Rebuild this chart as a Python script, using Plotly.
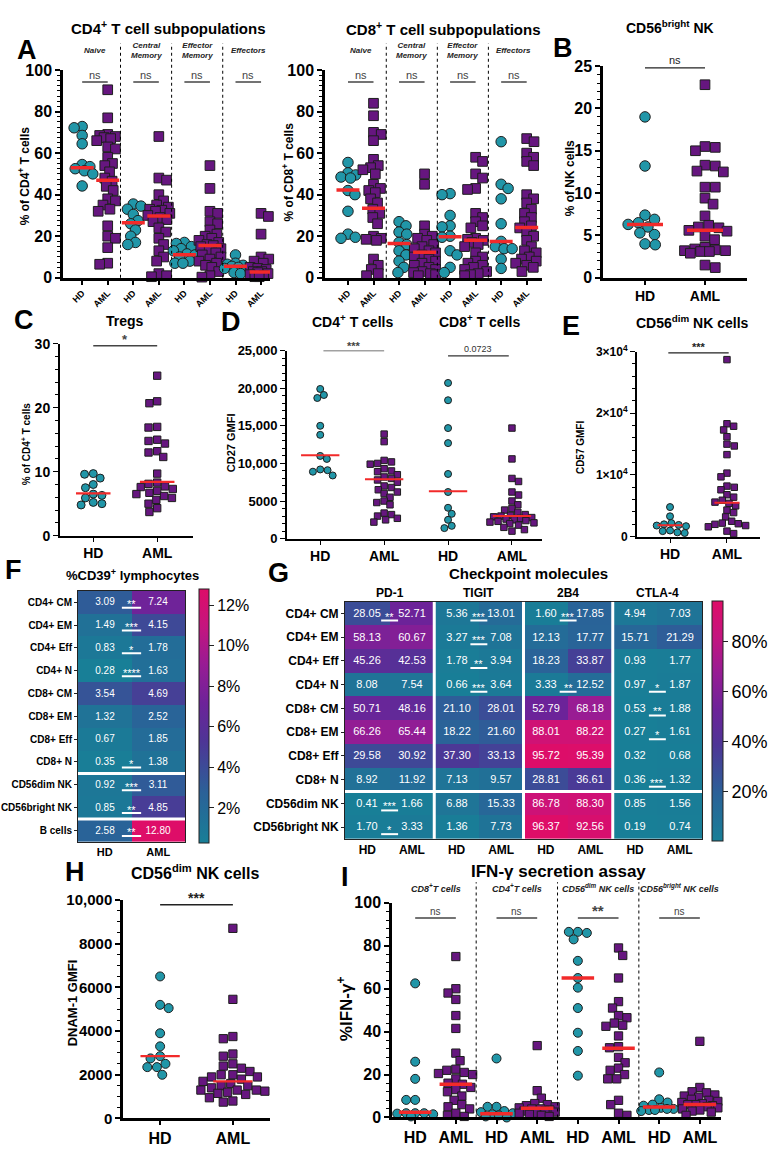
import numpy as np
import plotly.graph_objects as go

# ---------------- DATA ----------------
grp_labels = ["HD", "AML"]

# Panel A - CD4+ subpopulations (% of CD4+ T cells)
cd4_naive_hd = [72.8, 72.2, 68.5, 64.5, 54.5, 53.5, 52.5, 51.5, 50.0, 44.2]
cd4_naive_aml = [90.5, 77.0, 69.0, 68.5, 68.0, 67.5, 67.0, 66.0, 63.0, 62.0, 58.0, 55.0, 54.0, 51.0, 48.0,
                 46.5, 44.0, 42.0, 38.0, 37.0, 35.0, 33.0, 32.0, 25.0, 20.0, 19.0, 14.5, 7.0, 6.5]
cd4_cm_hd = [35.5, 34.5, 33.0, 30.5, 27.5, 26.0, 23.0, 20.0, 17.0, 16.0]
cd4_cm_aml = [68.0, 48.0, 47.0, 40.0, 37.0, 35.0, 34.0, 33.0, 32.5, 32.0, 31.0, 30.0, 29.0, 28.0, 27.0,
              24.0, 22.0, 19.0, 16.0, 13.0, 10.0, 8.0, 2.0, 1.0, 0.5]
cd4_em_hd = [17.0, 16.5, 15.0, 14.0, 13.0, 11.5, 11.0, 10.0, 8.0, 7.0, 7.0]
cd4_em_aml = [54.0, 43.0, 32.0, 31.0, 27.0, 26.0, 23.0, 21.0, 20.0, 19.0, 18.0, 17.0, 16.0, 15.5, 15.0,
              14.0, 13.0, 12.0, 11.0, 10.0, 9.0, 8.0, 7.0, 6.0, 5.0, 3.0, 1.0, 0.3]
cd4_eff_hd = [11.0, 7.0, 6.5, 6.0, 5.5, 5.0, 4.5, 3.5, 2.5, 2.0]
cd4_eff_aml = [31.0, 29.5, 21.0, 10.0, 9.0, 8.0, 7.0, 6.0, 5.0, 4.5, 4.0, 3.5, 3.0, 3.0, 2.5, 2.0, 1.5,
               1.0, 0.8, 0.5, 0.5]
cd4_medians = [53.0, 47.0, 26.5, 29.7, 11.1, 15.5, 5.5, 2.8]

# Panel A - CD8+ subpopulations (% of CD8+ T cells)
cd8_naive_hd = [55.5, 50.5, 49.5, 48.5, 48.0, 42.0, 40.0, 32.0, 21.0, 19.5, 19.0]
cd8_naive_aml = [84, 78, 70, 69, 66, 57, 54, 53, 52, 50, 45, 43, 42, 41, 38, 36, 33, 31, 29, 26, 20, 19,
                 18.5, 18, 9, 6, 4, 2, 1]
cd8_cm_hd = [27, 25, 22, 21, 17, 16, 13, 11, 8, 5, 2.5]
cd8_cm_aml = [50, 45, 25, 21, 20, 19, 18, 16, 15, 14, 13, 12, 11, 10, 9, 8, 7, 6, 5, 4, 3, 2.5, 2, 1.5, 1]
cd8_em_hd = [40.5, 40, 30, 25, 24.5, 20, 19.5, 13, 11, 5, 2.5]
cd8_em_aml = [58, 56, 50, 48, 43, 42.5, 31, 29, 27, 25, 24, 19, 18.5, 18, 17, 16, 15, 12, 10, 8, 7, 6, 5,
              4, 3, 2, 1.5, 1]
cd8_eff_hd = [65.5, 45, 43, 38, 26, 17.5, 15, 14, 14, 9, 4.5]
cd8_eff_aml = [67, 65.5, 60, 58, 56, 54, 40, 38, 36, 33, 31, 29, 27, 25, 24, 22, 20, 18, 15, 13, 12, 10, 9,
               8, 7, 6, 5, 3]
cd8_medians = [42.2, 33.5, 16.5, 12.3, 19.8, 18.0, 17.5, 24.2]
subpop_labels = ["Naive", "Central<br>Memory", "Effector<br>Memory", "Effectors"]
subpop_sig = ["ns", "ns", "ns", "ns"]

# Panel B - CD56bright NK (% of NK cells)
nkb_hd = [19.0, 13.2, 7.4, 6.9, 6.5, 6.3, 6.0, 5.3, 5.1, 4.0, 3.9]
nkb_aml = [22.8, 15.5, 15.4, 15.0, 13.3, 13.2, 12.6, 12.5, 10.7, 10.7, 9.4, 8.7, 7.3, 6.2, 6.0, 5.9, 5.6,
           5.5, 4.9, 4.5, 3.6, 3.4, 3.3, 3.2, 3.1, 3.1, 3.2, 2.9, 1.5, 1.2]
nkb_medians = [6.3, 5.6]

# Panel C - Tregs (% of CD4+ T cells)
treg_hd = [9.7, 9.6, 9.0, 8.0, 7.5, 6.5, 6.3, 5.9, 5.2, 5.0, 4.8]
treg_aml = [25, 21, 20.7, 17, 16.9, 15, 14.8, 14.4, 13.2, 13.0, 12.3, 9.7, 8.3, 8.1, 7.7, 7.6, 7.3, 7.0,
            6.7, 6.5, 6.2, 5.9, 5.6, 5.0, 4.3, 3.7]
treg_medians = [6.6, 8.4]

# Panel D - CD27 GMFI
cd27_cd4_hd = [19900, 19100, 18700, 15000, 13800, 11000, 10600, 9200, 9100, 8900, 8400]
cd27_cd4_aml = [13900, 12900, 10400, 10200, 10000, 9900, 9300, 9000, 8900, 8500, 8200, 8000, 7800, 7500,
                7000, 6800, 6500, 6200, 6000, 5500, 5000, 4800, 4500, 3400, 3200, 3000, 2700, 2500, 2200]
cd27_cd8_hd = [20700, 18400, 14700, 12700, 8600, 6200, 4100, 3300, 2500, 1700, 1400]
cd27_cd8_aml = [14700, 10600, 8000, 7600, 6200, 5800, 5000, 4500, 4000, 3800, 3500, 3200, 3100, 3000,
                2900, 2800, 2700, 2600, 2500, 2400, 2300, 2200, 2100, 2000, 1800, 1500, 1200, 1000]
cd27_medians = [11100, 7900, 6300, 3000]

# Panel E - CD57 GMFI
cd57_hd = [4800, 3300, 2200, 2000, 1900, 1800, 1700, 1000, 900, 700, 600]
cd57_aml = [28700, 18300, 17900, 17300, 16200, 15000, 14700, 13300, 10300, 9700, 8200, 8000, 7600, 6800,
            6400, 5900, 5600, 5400, 5000, 4300, 3900, 3200, 2500, 2200, 2100, 2000, 1800, 1600, 900, 500]
cd57_medians = [1850, 5500]

# Panel F - %CD39+ lymphocytes
f_rows = ["CD4+ CM", "CD4+ EM", "CD4+ Eff", "CD4+ N", "CD8+ CM", "CD8+ EM", "CD8+ Eff", "CD8+ N",
          "CD56dim NK", "CD56bright NK", "B cells"]
f_hd = [3.09, 1.49, 0.83, 0.28, 3.54, 1.32, 0.67, 0.35, 0.92, 0.85, 2.58]
f_aml = [7.24, 4.15, 1.78, 1.63, 4.69, 2.52, 1.85, 1.38, 3.11, 4.85, 12.80]
f_sig = ["**", "***", "*", "****", "", "", "", "*", "***", "**", "**"]

# Panel G - Checkpoint molecules
g_rows = ["CD4+ CM", "CD4+ EM", "CD4+ Eff", "CD4+ N", "CD8+ CM", "CD8+ EM", "CD8+ Eff", "CD8+ N",
          "CD56dim NK", "CD56bright NK"]
g_markers = ["PD-1", "TIGIT", "2B4", "CTLA-4"]
pd1_hd = [28.05, 58.13, 45.26, 8.08, 50.71, 66.26, 29.58, 8.92, 0.41, 1.70]
pd1_aml = [52.71, 60.67, 42.53, 7.54, 48.16, 65.44, 30.92, 11.92, 1.66, 3.33]
tigit_hd = [5.36, 3.27, 1.78, 0.66, 21.10, 18.22, 37.30, 7.13, 6.88, 1.36]
tigit_aml = [13.01, 7.08, 3.94, 3.64, 28.01, 21.60, 33.13, 9.57, 15.33, 7.73]
b2b4_hd = [1.60, 12.13, 18.23, 3.33, 52.79, 88.01, 95.72, 28.81, 86.78, 96.37]
b2b4_aml = [17.85, 17.77, 33.87, 12.52, 68.18, 88.22, 95.39, 36.61, 88.30, 92.56]
ctla4_hd = [4.94, 15.71, 0.93, 0.97, 0.53, 0.27, 0.32, 0.36, 0.85, 0.19]
ctla4_aml = [7.03, 21.29, 1.77, 1.87, 1.88, 1.61, 0.68, 1.32, 1.56, 0.74]
pd1_sig = ["**", "", "", "", "", "", "", "", "***", "*"]
tigit_sig = ["***", "***", "**", "***", "", "", "", "", "", ""]
b2b4_sig = ["***", "", "", "**", "", "", "", "", "", ""]
ctla4_sig = ["", "", "", "*", "**", "*", "", "***", "", ""]

# Panel H - DNAM-1 GMFI
dnam_hd = [6500, 5200, 5050, 3900, 3300, 2850, 2750, 2500, 2350, 2350, 2000]
dnam_aml = [8700, 5450, 3750, 3650, 2950, 2850, 2500, 2400, 2300, 2150, 2000, 2000, 1900, 1900, 1800,
            1700, 1600, 1500, 1500, 1400, 1300, 1300, 1300, 1250, 1200, 1150, 1100, 950, 800, 750]
dnam_medians = [2850, 1700]

# Panel I - IFN-g secretion
ifn_cd8_hd = [62.5, 26, 18, 8.2, 8.2, 2, 2, 2, 1.8, 1.5, 0.5]
ifn_cd8_aml = [75, 60, 58, 55, 47.5, 41.5, 30, 26.5, 22.5, 22, 21, 20.5, 20, 18, 16, 15.5, 14, 13, 12, 10,
               8, 6, 5, 4, 2, 1, 0.5]
ifn_cd4_hd = [27.5, 5, 5, 3, 2.5, 2, 1.5, 1, 0.5, 0]
ifn_cd4_aml = [33.5, 12.5, 9, 6.5, 6, 5.5, 5, 4.5, 4, 4, 3.5, 3, 3, 2.5, 2, 2, 1.5, 1, 0.5]
ifn_dim_hd = [86.5, 86.5, 86, 83, 73, 65, 60.5, 51, 39.5, 31, 19.5]
ifn_dim_aml = [79, 75.5, 65, 54, 51, 47.5, 46.5, 44, 43, 42.5, 38, 33, 32.5, 28, 25.5, 23, 22, 20, 18, 18,
               8, 6, 2, 1]
ifn_bri_hd = [21, 8.5, 7, 6, 5.5, 4.5, 4, 4, 3.5, 3.5, 3]
ifn_bri_aml = [35.5, 14, 12, 11.5, 10.5, 10, 9.5, 8.5, 8, 7.5, 7, 6.5, 6, 6, 5.5, 5, 4.5, 4, 3.5, 3, 2.5, 1]
ifn_medians = [2.4, 15.5, 1.8, 4.3, 65.0, 32.3, 4.9, 6.0]
ifn_labels = ["CD8<sup>+</sup>T cells", "CD4<sup>+</sup>T cells", "CD56<sup>dim</sup> NK cells",
              "CD56<sup>bright</sup> NK cells"]
ifn_sig = ["ns", "ns", "**", "ns"]

# ---------------- STYLE / HELPERS ----------------
W, H = 780, 1158
FONT = "Arial, Liberation Sans, Helvetica, sans-serif"
TEAL = "#2196a8"
PURP = "#66167f"
RED = "#f22a2a"
EDGE = "#1e1e1e"
GRAY = "#444444"
CS = [[0.0, "#187f97"], [0.2, "#2b6198"], [0.4, "#4e3596"], [0.55, "#6d2399"],
      [0.7, "#971c94"], [0.85, "#c4157f"], [1.0, "#de0d68"]]

fig = go.Figure()
layout = {}
annotations = []
shapes = []


def fx(p):
    return p / W


def fy(p):
    return 1 - p / H


def ann(text, x, y, size, bold=True, xref="paper", yref="paper", angle=0, color="black",
        italic=False, xanchor="center", yanchor="middle", yshift=0):
    if xref == "paper":
        x = fx(x)
    if yref == "paper":
        y = fy(y)
    annotations.append(dict(
        text=text, x=x, y=y, xref=xref, yref=yref, showarrow=False, textangle=angle,
        xanchor=xanchor, yanchor=yanchor, yshift=yshift,
        font=dict(family=FONT, size=size, color=color, weight="bold" if bold else "normal",
                  style="italic" if italic else "normal")))


def swarm(vals, ppu_x, ppu_y, d, maxw):
    """Beeswarm offsets (data units) computed from pixel geometry, limited to +-maxw px."""
    vals = np.asarray(vals, float)
    order = np.argsort(-vals, kind="stable")
    grid = np.linspace(-maxw, maxw, 61)
    grid = grid[np.argsort(np.abs(grid), kind="stable")]
    placed = []
    off = np.zeros(len(vals))
    for i in order:
        y = vals[i] * ppu_y
        if not placed:
            c = 0.0
        else:
            P = np.array(placed)
            dist = np.sqrt((grid[:, None] - P[None, :, 0]) ** 2 + (y - P[None, :, 1]) ** 2).min(axis=1)
            ok = np.where(dist >= d)[0]
            c = grid[ok[0]] if len(ok) else grid[np.argmax(dist)]
        placed.append((c, y))
        off[i] = c / ppu_x
    return off


def dot_panel(n, xpx, ypx, xr, yr, groups, meds, msize, mw, lw_med, ticktext, xfont, yfont, lw,
              ytickvals, yticktext, minor_dtick, maxw, dfac=0.85, tickangle=0):
    sfx = "" if n == 1 else str(n)
    layout["xaxis" + sfx] = dict(
        domain=[fx(xpx[0]), fx(xpx[1])], range=xr, anchor="y" + sfx, showline=True, linecolor="black",
        linewidth=lw, ticks="outside", ticklen=4, tickwidth=max(1, lw * 0.6), tickcolor="black",
        tickvals=list(range(len(ticktext))), ticktext=ticktext, tickangle=tickangle,
        tickfont=dict(family=FONT, size=xfont, color="black", weight="bold"),
        showgrid=False, zeroline=False, fixedrange=True)
    layout["yaxis" + sfx] = dict(
        domain=[fy(ypx[1]), fy(ypx[0])], range=yr, anchor="x" + sfx, showline=True, linecolor="black",
        linewidth=lw, ticks="outside", ticklen=5, tickwidth=max(1, lw * 0.7), tickcolor="black",
        tickmode="array", tickvals=ytickvals, ticktext=yticktext,
        tickfont=dict(family=FONT, size=yfont, color="black", weight="bold"),
        minor=dict(ticks="outside", ticklen=3, dtick=minor_dtick, tick0=0, tickcolor="black",
                   tickwidth=1, showgrid=False),
        showgrid=False, zeroline=False, fixedrange=True)
    ppu_x = (xpx[1] - xpx[0]) / (xr[1] - xr[0])
    ppu_y = (ypx[1] - ypx[0]) / (yr[1] - yr[0])
    for k, vals in enumerate(groups):
        hd = (k % 2 == 0)
        xs = k + swarm(vals, ppu_x, ppu_y, msize * dfac, maxw)
        fig.add_trace(go.Scatter(
            x=xs, y=vals, mode="markers", xaxis="x" + sfx, yaxis="y" + sfx, cliponaxis=False,
            marker=dict(symbol="circle" if hd else "square", size=msize if hd else msize * 0.92,
                        color=TEAL if hd else PURP, line=dict(color=EDGE, width=1)),
            hoverinfo="skip", showlegend=False))
    mx, my = [], []
    for k, m in enumerate(meds):
        mx += [k - mw, k + mw, None]
        my += [m, m, None]
    fig.add_trace(go.Scatter(x=mx, y=my, mode="lines", xaxis="x" + sfx, yaxis="y" + sfx,
                             cliponaxis=False, line=dict(color=RED, width=lw_med),
                             hoverinfo="skip", showlegend=False))


def bracket(n, x0, x1, y, text, ty_px, size, bold=False, lw=1.5, color=GRAY):
    sfx = "" if n == 1 else str(n)
    shapes.append(dict(type="line", xref="x" + sfx, yref="y" + sfx, x0=x0, x1=x1, y0=y, y1=y,
                       line=dict(color=color, width=lw)))
    ann(text, (x0 + x1) / 2, ty_px, size, bold=bold, xref="x" + sfx, color=color)


# ---------------- PANEL A ----------------
ab_ticks = grp_labels * 4
dot_panel(1, (63, 270), (62, 273), [-0.75, 7.35], [0, 100],
          [cd4_naive_hd, cd4_naive_aml, cd4_cm_hd, cd4_cm_aml, cd4_em_hd, cd4_em_aml, cd4_eff_hd, cd4_eff_aml],
          cd4_medians, 10.5, 0.45, 3.5, ab_ticks, 9, 16, 2.5,
          [0, 20, 40, 60, 80, 100], ["0", "20", "40", "60", "80", "100"], 2.5, maxw=11, dfac=0.75,
          tickangle=-45)
dot_panel(2, (325, 542), (62, 273), [-0.9, 7.6], [0, 100],
          [cd8_naive_hd, cd8_naive_aml, cd8_cm_hd, cd8_cm_aml, cd8_em_hd, cd8_em_aml, cd8_eff_hd, cd8_eff_aml],
          cd8_medians, 10.5, 0.45, 3.5, ab_ticks, 9, 16, 2.5,
          [0, 20, 40, 60, 80, 100], ["0", "20", "40", "60", "80", "100"], 2.5, maxw=11, dfac=0.75,
          tickangle=-45)
for n in (1, 2):
    sfx = "" if n == 1 else str(n)
    for d in (1.5, 3.5, 5.5):
        shapes.append(dict(type="line", xref="x" + sfx, yref="paper", x0=d, x1=d, y0=fy(273), y1=fy(35),
                           line=dict(color="black", width=1, dash="dot")))
    for k, lab in enumerate(subpop_labels):
        ann(lab, 2 * k + 0.5, 42, 8, bold=True, italic=True, xref="x" + sfx, color="#222")
        bracket(n, 2 * k, 2 * k + 1, 94.3, subpop_sig[k], 67, 11)
ann("A", 27, 42, 27)
ann("CD4<sup>+</sup> T cell subpopulations", 168, 19, 15)
ann("CD8<sup>+</sup> T cell subpopulations", 443, 20, 15)
ann("% of CD4<sup>+</sup> T cells", 24, 170, 12, angle=-90)
ann("% of CD8<sup>+</sup> T cells", 288, 166, 12, angle=-90)

# ---------------- PANEL B ----------------
dot_panel(3, (603, 747), (58, 273), [-0.7, 1.7], [0, 25], [nkb_hd, nkb_aml], nkb_medians,
          10.5, 0.3, 3.5, grp_labels, 14, 16, 2.5, [0, 5, 10, 15, 20, 25],
          ["0", "5", "10", "15", "20", "25"], 1, maxw=22, dfac=0.95)
bracket(3, 0, 1, 24.8, "ns", 52, 11, lw=1.2, color="#222")
ann("B", 563, 40, 27)
ann("CD56<sup>bright</sup> NK", 670, 18, 14)
ann("% of NK cells", 570, 172, 12, angle=-90)

# ---------------- PANEL C ----------------
dot_panel(4, (60, 193), (340, 535), [-0.52, 1.56], [0, 30], [treg_hd, treg_aml], treg_medians,
          8, 0.27, 2.2, grp_labels, 14, 14, 2, [0, 10, 20, 30], ["0", "10", "20", "30"], 2,
          maxw=26, dfac=1.0)
bracket(4, 0, 1, 29.7, "*", 336, 13, bold=True)
ann("C", 24, 316, 27)
ann("Tregs", 125, 317, 14)
ann("% of CD4<sup>+</sup> T cells", 26, 442, 10, angle=-90)

# ---------------- PANEL D ----------------
dot_panel(5, (287, 542), (347, 538), [-0.52, 3.47], [0, 25000],
          [cd27_cd4_hd, cd27_cd4_aml, cd27_cd8_hd, cd27_cd8_aml], cd27_medians,
          7, 0.3, 2, grp_labels * 2, 14, 13, 2, [0, 5000, 10000, 15000, 20000, 25000],
          ["0", "5000", "10,000", "15,000", "20,000", "25,000"], 1000, maxw=22, dfac=1.0)
bracket(5, 0.05, 1.0, 25000, "***", 342, 11, bold=True)
bracket(5, 2.0, 2.95, 24300, "0.0723", 345, 9, lw=1.2, color="#333")
ann("D", 231, 318, 27)
ann("CD4<sup>+</sup> T cells", 352, 317, 14)
ann("CD8<sup>+</sup> T cells", 479, 317, 14)
ann("CD27 GMFI", 231, 441, 11, angle=-90)

# ---------------- PANEL E ----------------
dot_panel(6, (637, 760), (348, 536), [-0.58, 1.58], [0, 30000], [cd57_hd, cd57_aml], cd57_medians,
          7, 0.22, 2, grp_labels, 14, 12, 2, [0, 10000, 20000, 30000],
          ["0", "1×10<sup>4</sup>", "2×10<sup>4</sup>", "3×10<sup>4</sup>"], 2000, maxw=20, dfac=1.0)
bracket(6, -0.03, 1.03, 29800, "***", 343, 11, bold=True, lw=1.2, color="#222")
ann("E", 571, 322, 27)
ann("CD56<sup>dim</sup> NK cells", 692, 318, 14)
ann("CD57 GMFI", 580, 445, 10, angle=-90)

# ---------------- PANEL F (heatmap) ----------------
zF = np.column_stack([f_hd, f_aml])
tF = [[f"{a:.2f}", f"{b:.2f}"] for a, b in zip(f_hd, f_aml)]
fig.add_trace(go.Heatmap(
    z=zF, x=[0, 1], y=list(range(len(f_rows))), text=tF, texttemplate="%{text}",
    textfont=dict(family=FONT, size=10, color="white"), colorscale=CS,
    zmin=float(zF.min()), zmax=float(zF.max()), xaxis="x7", yaxis="y7", hoverinfo="skip",
    colorbar=dict(x=fx(199), xanchor="left", y=fy(718), yanchor="middle", len=254, lenmode="pixels",
                  thickness=10, thicknessmode="pixels", xpad=0, ypad=0, outlinewidth=1,
                  outlinecolor="#222", tickmode="array", tickvals=[2, 4, 6, 8, 10, 12],
                  ticktext=["2%", "4%", "6%", "8%", "10%", "12%"], ticks="outside", ticklen=5,
                  tickcolor="#222", tickfont=dict(family=FONT, size=16, color="black"))))
layout["xaxis7"] = dict(domain=[fx(78), fx(185)], range=[-0.5, 1.5], anchor="y7", tickvals=[0, 1],
                        ticktext=grp_labels, ticks="", showline=True, mirror=True, linecolor="#222",
                        linewidth=1, showgrid=False, zeroline=False,
                        tickfont=dict(family=FONT, size=11, color="black", weight="bold"))
layout["yaxis7"] = dict(domain=[fy(846), fy(591)], range=[len(f_rows) - 0.5, -0.5], anchor="x7",
                        tickvals=list(range(len(f_rows))), ticktext=f_rows, ticks="outside", ticklen=3,
                        tickcolor="#222", showline=True, mirror=True, linecolor="#222", linewidth=1,
                        showgrid=False, zeroline=False,
                        tickfont=dict(family=FONT, size=10, color="black", weight="bold"))
for yy in (7.5, 9.5):
    shapes.append(dict(type="line", xref="x7", yref="y7", x0=-0.5, x1=1.5, y0=yy, y1=yy,
                       line=dict(color="white", width=3)))
for r, s in enumerate(f_sig):
    if s:
        ann(s, 0.5, r, 11, bold=False, xref="x7", yref="y7", color="white", yshift=-2)
        shapes.append(dict(type="line", xref="x7", yref="y7", x0=0.32, x1=0.68, y0=r + 0.24, y1=r + 0.24,
                           line=dict(color="white", width=2)))
ann("F", 14, 570, 27)
ann("%CD39<sup>+</sup> lymphocytes", 132, 575, 13)

# ---------------- PANEL G (heatmap) ----------------
g_cols = [pd1_hd, pd1_aml, tigit_hd, tigit_aml, b2b4_hd, b2b4_aml, ctla4_hd, ctla4_aml]
g_sigs = [pd1_sig, tigit_sig, b2b4_sig, ctla4_sig]
zG = np.column_stack(g_cols)
tG = [[f"{v:.2f}" for v in row] for row in zG]
fig.add_trace(go.Heatmap(
    z=zG, x=list(range(8)), y=list(range(len(g_rows))), text=tG, texttemplate="%{text}",
    textfont=dict(family=FONT, size=11, color="white"), colorscale=CS,
    zmin=float(zG.min()), zmax=float(zG.max()), xaxis="x8", yaxis="y8", hoverinfo="skip",
    colorbar=dict(x=fx(712), xanchor="left", y=fy(723), yanchor="middle", len=240, lenmode="pixels",
                  thickness=11, thicknessmode="pixels", xpad=0, ypad=0, outlinewidth=1,
                  outlinecolor="#222", tickmode="array", tickvals=[20, 40, 60, 80],
                  ticktext=["20%", "40%", "60%", "80%"], ticks="outside", ticklen=5,
                  tickcolor="#222", tickfont=dict(family=FONT, size=18, color="black"))))
layout["xaxis8"] = dict(domain=[fx(345), fx(702)], range=[-0.5, 7.5], anchor="y8", tickvals=list(range(8)),
                        ticktext=grp_labels * 4, ticks="", showline=True, mirror=True, linecolor="#222",
                        linewidth=1, showgrid=False, zeroline=False,
                        tickfont=dict(family=FONT, size=12, color="black", weight="bold"))
layout["yaxis8"] = dict(domain=[fy(843), fy(602)], range=[len(g_rows) - 0.5, -0.5], anchor="x8",
                        tickvals=list(range(len(g_rows))), ticktext=g_rows, ticks="outside", ticklen=3,
                        tickcolor="#222", showline=True, mirror=True, linecolor="#222", linewidth=1,
                        showgrid=False, zeroline=False,
                        tickfont=dict(family=FONT, size=12, color="black", weight="bold"))
for xx in (1.5, 3.5, 5.5):
    shapes.append(dict(type="line", xref="x8", yref="y8", x0=xx, x1=xx, y0=-0.5, y1=9.5,
                       line=dict(color="white", width=3)))
shapes.append(dict(type="line", xref="x8", yref="y8", x0=-0.5, x1=7.5, y0=7.5, y1=7.5,
                   line=dict(color="white", width=3)))
for g, sig in enumerate(g_sigs):
    cx = 2 * g + 0.5
    ann(g_markers[g], cx, 593, 12, xref="x8")
    for r, s in enumerate(sig):
        if s:
            ann(s, cx, r, 11, bold=False, xref="x8", yref="y8", color="white", yshift=-3)
            shapes.append(dict(type="line", xref="x8", yref="y8", x0=cx - 0.19, x1=cx + 0.19,
                               y0=r + 0.3, y1=r + 0.3, line=dict(color="white", width=2)))
ann("G", 278, 573, 27)
ann("Checkpoint molecules", 528, 573, 15)

# ---------------- PANEL H ----------------
dot_panel(9, (123, 270), (905, 1127), [-0.51, 1.51], [0, 10000], [dnam_hd, dnam_aml], dnam_medians,
          9, 0.27, 2.2, grp_labels, 16, 15, 2.5, [0, 2000, 4000, 6000, 8000, 10000],
          ["0", "2000", "4000", "6000", "8000", "10,000"], 500, maxw=32, dfac=1.0)
bracket(9, 0, 1, 9780, "***", 903, 14, bold=True, lw=1.3, color="#222")
ann("H", 75, 877, 27)
ann("CD56<sup>dim</sup> NK cells", 195, 877, 16)
ann("DNAM-1 GMFI", 72, 1010, 13, angle=-90)

# ---------------- PANEL I ----------------
dot_panel(10, (392, 721), (908, 1126), [-0.57, 7.52], [0, 100],
          [ifn_cd8_hd, ifn_cd8_aml, ifn_cd4_hd, ifn_cd4_aml, ifn_dim_hd, ifn_dim_aml, ifn_bri_hd, ifn_bri_aml],
          ifn_medians, 9, 0.4, 3.5, grp_labels * 4, 16, 16, 2.5,
          [0, 20, 40, 60, 80, 100], ["0", "20", "40", "60", "80", "100"], 4, maxw=18, dfac=0.95)
for d in (1.5, 3.5, 5.5):
    shapes.append(dict(type="line", xref="x10", yref="paper", x0=d, x1=d, y0=fy(1126), y1=fy(887),
                       line=dict(color="black", width=1, dash="dot")))
for k, lab in enumerate(ifn_labels):
    ann(lab, 2 * k + 0.5, 893, 9, bold=True, italic=True, xref="x10", color="#222")
    if ifn_sig[k] == "**":
        bracket(10, 2 * k, 2 * k + 1, 93, "**", 916, 15, bold=True)
    else:
        bracket(10, 2 * k, 2 * k + 1, 93, ifn_sig[k], 917, 10)
ann("I", 345, 882, 27)
ann("IFN-γ secretion assay", 558, 876, 17)
ann("%IFN-γ<sup>+</sup>", 345, 1016, 17, angle=-90)

# ---------------- LAYOUT ----------------
fig.update_layout(
    width=W, height=H, autosize=False, margin=dict(l=0, r=0, t=0, b=0),
    paper_bgcolor="white", plot_bgcolor="rgba(0,0,0,0)", showlegend=False,
    font=dict(family=FONT, color="black"), annotations=annotations, shapes=shapes, **layout)

fig.write_html("out.html", config={"displayModeBar": False},
               post_script="document.body.style.margin='0px';")
